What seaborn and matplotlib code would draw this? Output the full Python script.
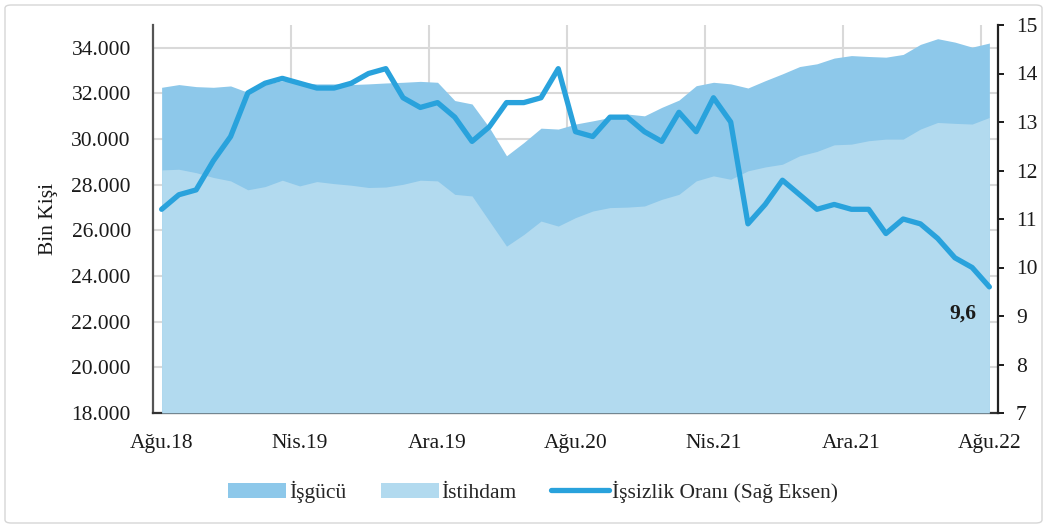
import matplotlib
matplotlib.use("Agg")
import matplotlib.pyplot as plt
import seaborn as sns
import pandas as pd
import numpy as np
from matplotlib.patches import Patch, FancyBboxPatch
from matplotlib.lines import Line2D
from matplotlib.ticker import FuncFormatter, FixedLocator

# ---------------- data ----------------
month_names = ["Oca", "Şub", "Mar", "Nis", "May", "Haz", "Tem", "Ağu", "Eyl", "Eki", "Kas", "Ara"]
start_month_index = 7   # Ağu
start_year = 18
n_months = 49

isgucu = [32270, 32390, 32300, 32270, 32330, 32050, 32400, 32560,
          32490, 32420, 32420, 32390, 32420, 32460, 32490, 32530,
          32490, 31690, 31540, 30510, 29270, 29850, 30480, 30440,
          30660, 30800, 30950, 31100, 31020, 31390, 31710, 32340,
          32490, 32420, 32240, 32560, 32860, 33180, 33300, 33550,
          33660, 33620, 33590, 33710, 34150, 34400, 34250, 34030, 34210]

istihdam = [28650, 28680, 28530, 28320, 28170, 27780, 27920, 28200,
            27950, 28140, 28050, 27980, 27880, 27900, 28020, 28200,
            28170, 27580, 27510, 26410, 25310, 25820, 26410, 26190,
            26560, 26850, 27000, 27020, 27070, 27360, 27580, 28170,
            28390, 28240, 28610, 28780, 28900, 29270, 29460, 29750,
            29780, 29930, 30000, 30000, 30440, 30730, 30690, 30660, 30950]

issizlik = [11.2, 11.5, 11.6, 12.2, 12.7, 13.6, 13.8, 13.9,
            13.8, 13.7, 13.7, 13.8, 14.0, 14.1, 13.5, 13.3,
            13.4, 13.1, 12.6, 12.9, 13.4, 13.4, 13.5, 14.1,
            12.8, 12.7, 13.1, 13.1, 12.8, 12.6, 13.2, 12.8,
            13.5, 13.0, 10.9, 11.3, 11.8, 11.5, 11.2, 11.3,
            11.2, 11.2, 10.7, 11.0, 10.9, 10.6, 10.2, 10.0, 9.6]

left_ticks = [18000, 20000, 22000, 24000, 26000, 28000, 30000, 32000, 34000]
right_ticks = [7, 8, 9, 10, 11, 12, 13, 14, 15]
label_every = 8
last_label = "9,6"

labels = []
for k in range(n_months):
    m = (start_month_index + k) % 12
    y = start_year + (start_month_index + k) // 12
    labels.append(f"{month_names[m]}.{y:02d}")

df = pd.DataFrame({"idx": np.arange(n_months), "ay": labels,
                   "isgucu": isgucu, "istihdam": istihdam, "issizlik": issizlik})

# ---------------- style ----------------
sns.set_style("white")
plt.rcParams["font.family"] = ["Liberation Serif", "DejaVu Serif"]

FS = 15.5
c_isgucu = "#8DC8EA"
c_istihdam = "#B2DAEF"
c_line = "#29A2DC"
c_grid = "#D9D9D9"
c_text = "#1A1A1A"

fig = plt.figure(figsize=(10.47, 5.28), dpi=100)
ax = fig.add_axes([153 / 1047, 1 - 413 / 528, (998 - 153) / 1047, (413 - 25) / 528])

# figure frame
fig.patches.append(FancyBboxPatch((5 / 1047, 5 / 528), 1037 / 1047, 518 / 528,
                                  boxstyle="round,pad=0,rounding_size=0.006",
                                  transform=fig.transFigure, facecolor="none",
                                  edgecolor="#D6D6D6", lw=1.0))

ymin = 18000
ax.fill_between(df["idx"], ymin, df["isgucu"], color=c_isgucu, lw=0, zorder=2)
ax.fill_between(df["idx"], ymin, df["istihdam"], color=c_istihdam, lw=0, zorder=3)

ax.set_xlim(-0.5, n_months - 0.5)
ax.set_ylim(18000, 35000)
ax.yaxis.set_major_locator(FixedLocator(left_ticks))
ax.yaxis.set_major_formatter(FuncFormatter(lambda v, p: f"{int(v):,}".replace(",", ".")))

tick_pos = list(range(0, n_months, label_every))
ax.set_xticks(tick_pos)
ax.set_xticklabels([labels[i] for i in tick_pos])
ax.set_xticks([i - 0.5 for i in range(label_every, n_months, label_every)], minor=True)

ax.set_axisbelow(True)
ax.grid(axis="y", which="major", color=c_grid, lw=1.5, zorder=0)
ax.grid(axis="x", which="minor", color=c_grid, lw=1.5, zorder=0)
ax.grid(axis="x", which="major", visible=False)

ax.tick_params(axis="y", which="both", length=0, pad=16, labelsize=FS, colors=c_text)
ax.tick_params(axis="x", which="both", length=0, pad=15, labelsize=FS, colors=c_text)
ax.set_ylabel("Bin Kişi", fontsize=FS, color=c_text)
ax.yaxis.set_label_coords(-0.112, 0.5)
ax.set_xlabel("")

for s in ["top", "right"]:
    ax.spines[s].set_visible(False)
ax.spines["left"].set_color("#555555")
ax.spines["left"].set_linewidth(1.6)
ax.spines["bottom"].set_color("#333333")
ax.spines["bottom"].set_linewidth(1.6)

ax2 = ax.twinx()
sns.lineplot(data=df, x="idx", y="issizlik", ax=ax2, color=c_line, lw=3.8, zorder=5)
ax2.lines[0].set_solid_joinstyle("round")
ax2.set_ylim(7, 15)
ax2.yaxis.set_major_locator(FixedLocator(right_ticks))
ax2.set_ylabel("")
ax2.set_xlabel("")
ax2.tick_params(axis="y", length=4, width=1.4, direction="out", pad=9, labelsize=FS,
                colors=c_text)
for s in ["top", "left", "bottom"]:
    ax2.spines[s].set_visible(False)
ax2.spines["right"].set_visible(True)
ax2.spines["right"].set_color("#222222")
ax2.spines["right"].set_linewidth(1.6)
ax2.grid(False)
ax2.set_xlim(-0.5, n_months - 0.5)

ax2.annotate(last_label, xy=(n_months - 1, issizlik[-1]), xytext=(-19, -19.5),
             textcoords="offset points", ha="center", va="center",
             fontsize=FS, fontweight="bold", color=c_text)

handles = [Patch(facecolor=c_isgucu, edgecolor="none", label="İşgücü"),
           Patch(facecolor=c_istihdam, edgecolor="none", label="İstihdam"),
           Line2D([0], [0], color=c_line, lw=3.8, label="İşsizlik Oranı (Sağ Eksen)")]
fig.legend(handles=handles, loc="center", bbox_to_anchor=(533 / 1047, 1 - 492 / 528),
           ncol=3, frameon=False, fontsize=FS, handlelength=2.7, handleheight=0.75,
           handletextpad=0.12, columnspacing=1.6)

fig.savefig("out.png", dpi=100)
